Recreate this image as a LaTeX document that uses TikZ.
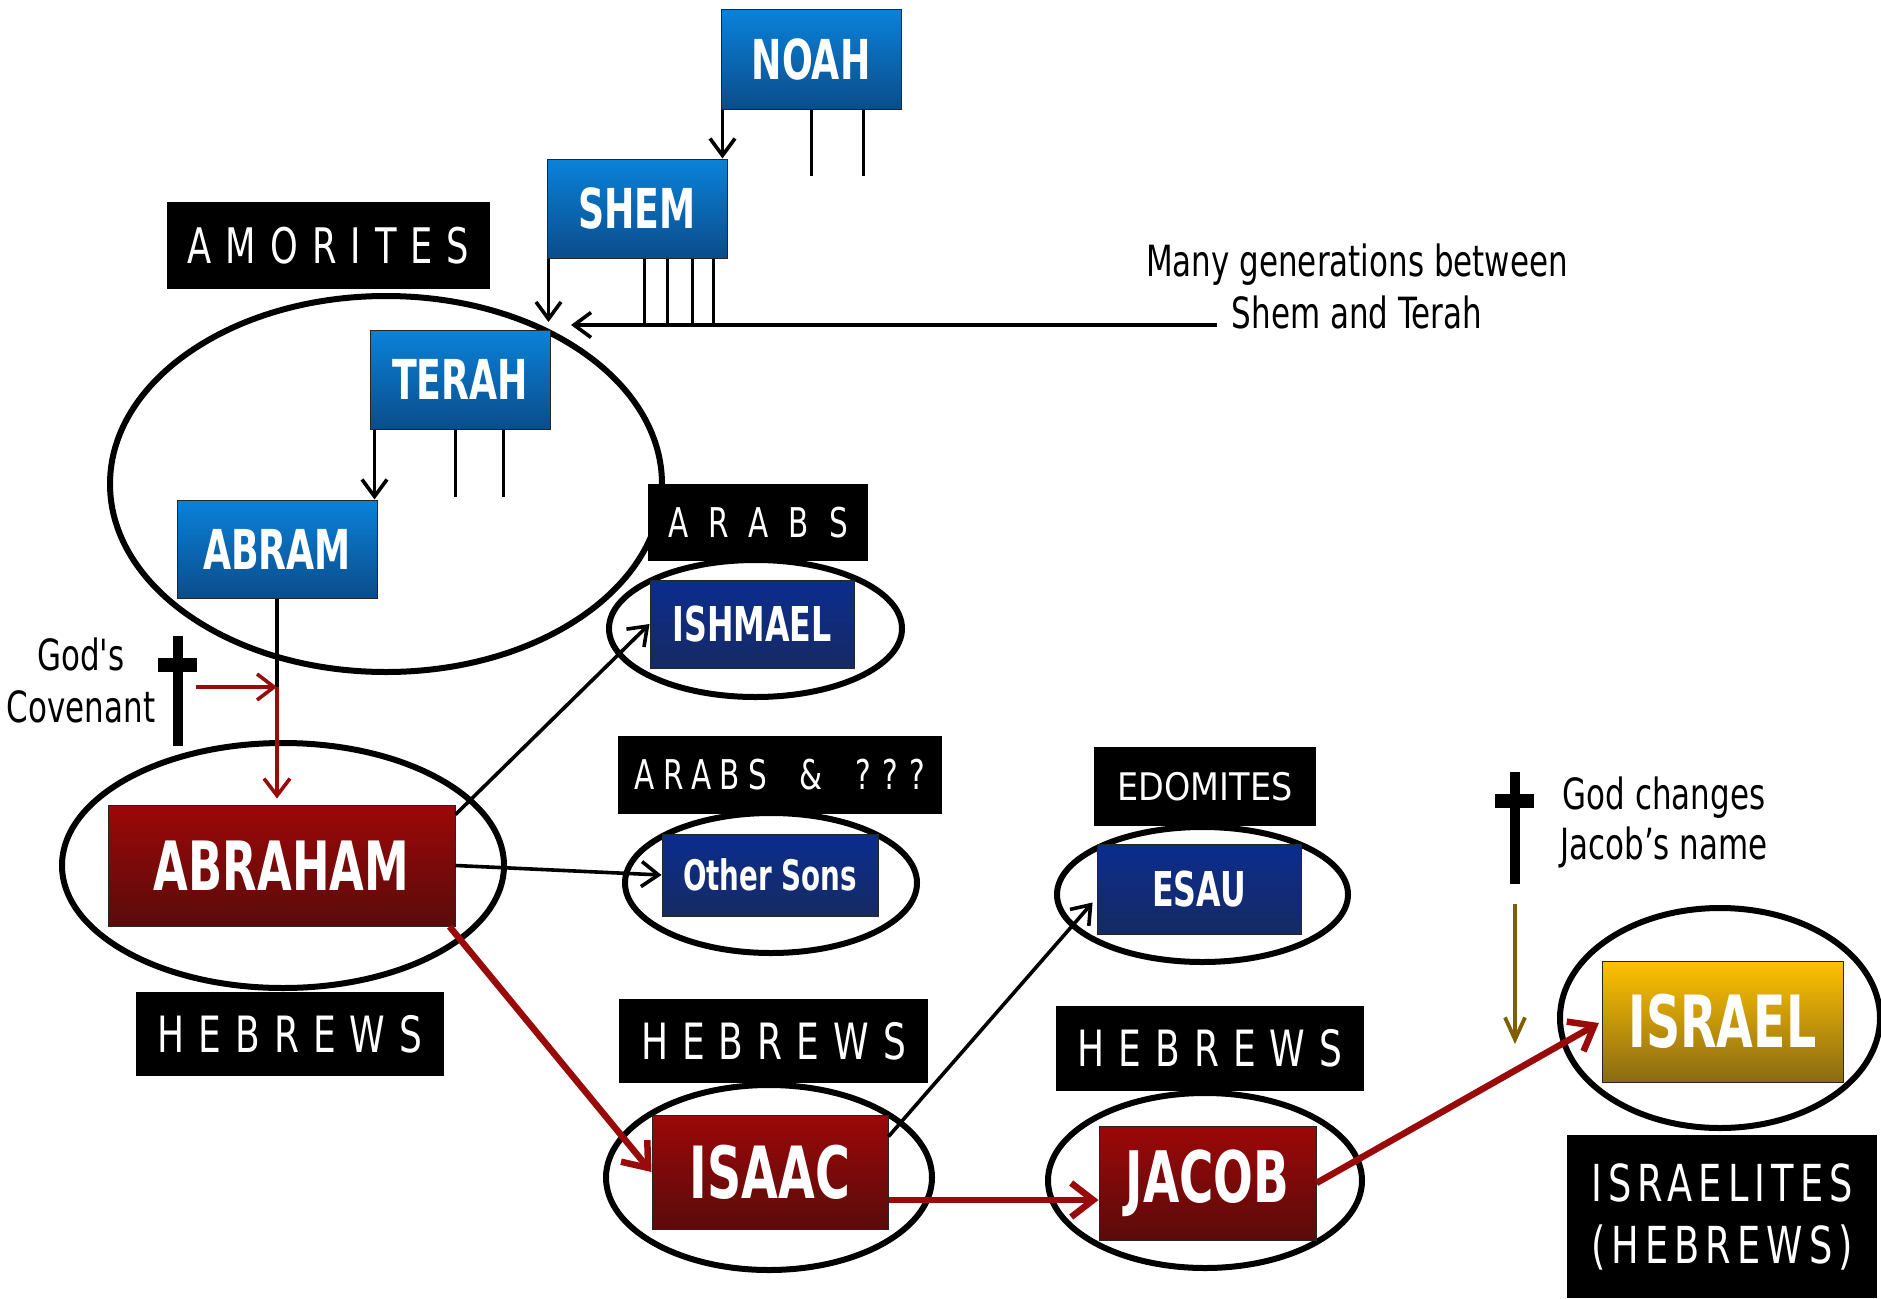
\documentclass[tikz,border=0pt]{standalone}
\usepackage{fontspec}
\setmainfont{DejaVu Sans}
\newfontfamily\lblfont{DejaVu Sans}[FakeStretch=0.72]
\newfontfamily\lblwide{DejaVu Sans}[FakeStretch=0.88]
\newfontfamily\boxfont{DejaVu Sans}[FakeStretch=0.66]
\newfontfamily\annfont{DejaVu Sans}[FakeStretch=0.72]
\usetikzlibrary{shapes.geometric,arrows.meta}
\definecolor{bluetop}{HTML}{0A82DA}
\definecolor{bluebot}{HTML}{0B4C8A}
\definecolor{redtop}{HTML}{9C0808}
\definecolor{redbot}{HTML}{5A0B0B}
\definecolor{navytop}{HTML}{0B2C8E}
\definecolor{navybot}{HTML}{162B63}
\definecolor{goldtop}{HTML}{FFC200}
\definecolor{goldbot}{HTML}{8A6A14}
\definecolor{arrred}{HTML}{990A0A}
\definecolor{brownarr}{HTML}{7F6000}
\tikzset{
  fambox/.style={draw=black!85, line width=1pt, inner sep=0pt, text=white},
  bluebox/.style={fambox, top color=bluetop, bottom color=bluebot},
  redbox/.style={fambox, top color=redtop, bottom color=redbot},
  navybox/.style={fambox, top color=navytop, bottom color=navybot},
  goldbox/.style={fambox, top color=goldtop, bottom color=goldbot},
  tagbox/.style={fill=black, inner sep=0pt, text=white},
  ring/.style={ellipse, draw=black, line width=6pt, inner sep=0pt},
  blk/.style={line width=3.6pt, draw=black},
  blkarr/.style={blk, -{Straight Barb[length=17pt,width=25pt]}},
  redthick/.style={line width=6.5pt, draw=arrred, -{Straight Barb[length=22pt,width=34pt]}},
  redthin/.style={line width=3.6pt, draw=arrred, -{Straight Barb[length=17pt,width=26pt]}},
  brownarrow/.style={line width=3.8pt, draw=brownarr, -{Straight Barb[length=22pt,width=20pt]}},
  ann/.style={inner sep=0pt, align=center, anchor=base},
}
\newcommand{\bxf}[1]{\boxfont\bfseries\fontsize{#1}{#1}\selectfont}
\newcommand{\lbf}[2]{\lblfont\fontsize{#1}{#1}\selectfont\spaceskip=#2pt\relax}
\begin{document}
\begin{tikzpicture}[x=1pt,y=-1pt]
\useasboundingbox (0,0) rectangle (1881,1298);
\fill[white] (0,0) rectangle (1881,1298);

% ellipses
\node[ring, minimum width=552pt, minimum height=376pt] (eTerah) at (386,484) {};
\node[ring, minimum width=293pt, minimum height=137pt] (eIshmael) at (755.5,628.5) {};
\node[ring, minimum width=442pt, minimum height=245pt] (eAbraham) at (283,865.5) {};
\node[ring, minimum width=292pt, minimum height=140pt] (eOther) at (771,883) {};
\node[ring, minimum width=291pt, minimum height=135pt] (eEsau) at (1202.5,894.5) {};
\node[ring, minimum width=326pt, minimum height=185pt] (eIsaac) at (769,1177.5) {};
\node[ring, minimum width=314pt, minimum height=175pt] (eJacob) at (1205,1180.5) {};
\node[ring, minimum width=320pt, minimum height=220pt] (eIsrael) at (1720,1018) {};

% family boxes
\node[bluebox, minimum width=180pt, minimum height=99pt, font=\bxf{55}] (noah) at (811,59.5) {NOAH};
\node[bluebox, minimum width=180pt, minimum height=99pt, font=\bxf{55}] (shem) at (637,208.5) {SHEM};
\node[bluebox, minimum width=180pt, minimum height=99pt, font=\bxf{55}] (terah) at (460,379.5) {TERAH};
\node[bluebox, minimum width=200pt, minimum height=98pt, font=\bxf{55}] (abram) at (277,549) {ABRAM};
\node[redbox, minimum width=347pt, minimum height=121pt, font=\bxf{68}] (abraham) at (281.5,865.5) {ABRAHAM};
\node[navybox, minimum width=204pt, minimum height=88pt, font=\bxf{48}] (ishmael) at (752,624) {ISHMAEL};
\node[navybox, minimum width=216pt, minimum height=82pt, font=\bxf{42}] (othersons) at (770,875) {Other Sons};
\node[navybox, minimum width=204pt, minimum height=90pt, font=\bxf{48}] (esau) at (1199,889) {ESAU};
\node[redbox, minimum width=236pt, minimum height=114pt, font=\bxf{72}] (isaac) at (770,1172) {ISAAC};
\node[redbox, minimum width=217pt, minimum height=114pt, font=\bxf{71}] (jacob) at (1207.5,1183) {JACOB};
\node[goldbox, minimum width=241pt, minimum height=121pt, font=\bxf{72}] (israel) at (1722.5,1021.5) {ISRAEL};

% tag boxes
\node[tagbox, minimum width=323pt, minimum height=87pt, font=\lbf{49}{14}] (amorites) at (328.5,245.5) {A M O R I T E S};
\node[tagbox, minimum width=220pt, minimum height=77pt, font=\lbf{41}{20}] (arabs) at (758,522.5) {A R A B S};
\node[tagbox, minimum width=324pt, minimum height=78pt, font=\lbf{41}{8}] (arabsq) at (780,775) {A R A B S \hspace{25pt}\& \hspace{25pt}? ? ?};
\node[tagbox, minimum width=222pt, minimum height=79pt, font={\lblwide\fontsize{38}{38}\selectfont}] (edomites) at (1205,786.5) {EDOMITES};
\node[tagbox, minimum width=308pt, minimum height=84pt, font=\lbf{50}{14}] (hebA) at (290,1034) {H E B R E W S};
\node[tagbox, minimum width=309pt, minimum height=84pt, font=\lbf{50}{14}] (hebB) at (773.5,1041) {H E B R E W S};
\node[tagbox, minimum width=308pt, minimum height=85pt, font=\lbf{50}{14}] (hebC) at (1210,1048.5) {H E B R E W S};
\node[tagbox, minimum width=310pt, minimum height=163pt, align=center, font={\lblfont\fontsize{51}{62}\selectfont\addfontfeatures{LetterSpace=12}}] (israelites) at (1722,1216.5) {ISRAELITES\\(HEBREWS)};

% annotations (anchored at the baseline of their last line)
\node[ann, font={\annfont\fontsize{43}{52}\selectfont}] (mg) at (1357,328) {Many generations between\\Shem and Terah};
\node[ann, font={\annfont\fontsize{43}{52}\selectfont}] (cov) at (81,722) {God's\\Covenant};
\node[ann, font={\annfont\fontsize{43}{50}\selectfont}] (chg) at (1664,859) {God changes\\Jacob’s name};

% crosses
\fill[black] (173,636) rectangle (183,746);
\fill[black] (158,658) rectangle (197,672);
\fill[black] (1510,772) rectangle (1520,884);
\fill[black] (1495,794) rectangle (1534,808);

% Noah
\draw[blkarr] ([xshift=2pt]noah.south west) -- ([xshift=2pt]noah.south west |- shem.north);
\draw[blk] (noah.south west) ++(91,0) -- ++(0,66);
\draw[blk] (noah.south west) ++(143,0) -- ++(0,66);
% Shem
\coordinate (meet) at (549,322);
\draw[blkarr] ([xshift=2pt]shem.south west) -- ([xshift=2pt]shem.south west |- meet);
\draw[blk] (shem.south west) ++(98,0) -- ++(0,67);
\draw[blk] (shem.south west) ++(121,0) -- ++(0,67);
\draw[blk] (shem.south west) ++(146,0) -- ++(0,67);
\draw[blk] (shem.south west) ++(167,0) -- ++(0,67);
\coordinate (mgstart) at (1217,325);
\coordinate (mgtip) at (571,325);
\draw[blkarr] (mgstart) -- (mgtip);
% Terah
\draw[blkarr] ([xshift=5pt]terah.south west) -- ([xshift=5pt]terah.south west |- abram.north);
\draw[blk] (terah.south west) ++(86,0) -- ++(0,67);
\draw[blk] (terah.south west) ++(134,0) -- ++(0,67);
% Abram to Abraham with covenant
\coordinate (covj) at (abram.south |- 0,687);
\coordinate (covs) at (196,687);
\draw[blk] (abram.south) -- (covj);
\draw[redthin, shorten >=6pt] (covj) -- (covj |- abraham.north);
\draw[redthin] (covs) -- (covj);
% Abraham's sons
\draw[blkarr] ([yshift=-10pt]abraham.north east) -- (ishmael.west);
\draw[blkarr] (abraham.east) -- (othersons.west);
\draw[redthick] ([xshift=-6pt]abraham.south east) -- (isaac.west);
% Isaac's sons
\draw[blkarr, shorten >=6pt] ([yshift=-22pt]isaac.north east) -- ([yshift=-9pt]esau.west);
\draw[redthick] ([yshift=-28pt]isaac.east) -- ([yshift=-28pt]isaac.east -| jacob.west);
\draw[redthick, shorten >=3pt] (jacob.east) -- (israel.west);
% name change
\coordinate (bs) at (1515,904);
\coordinate (be) at (1515,1044);
\draw[brownarrow] (bs) -- (be);
\end{tikzpicture}
\end{document}
